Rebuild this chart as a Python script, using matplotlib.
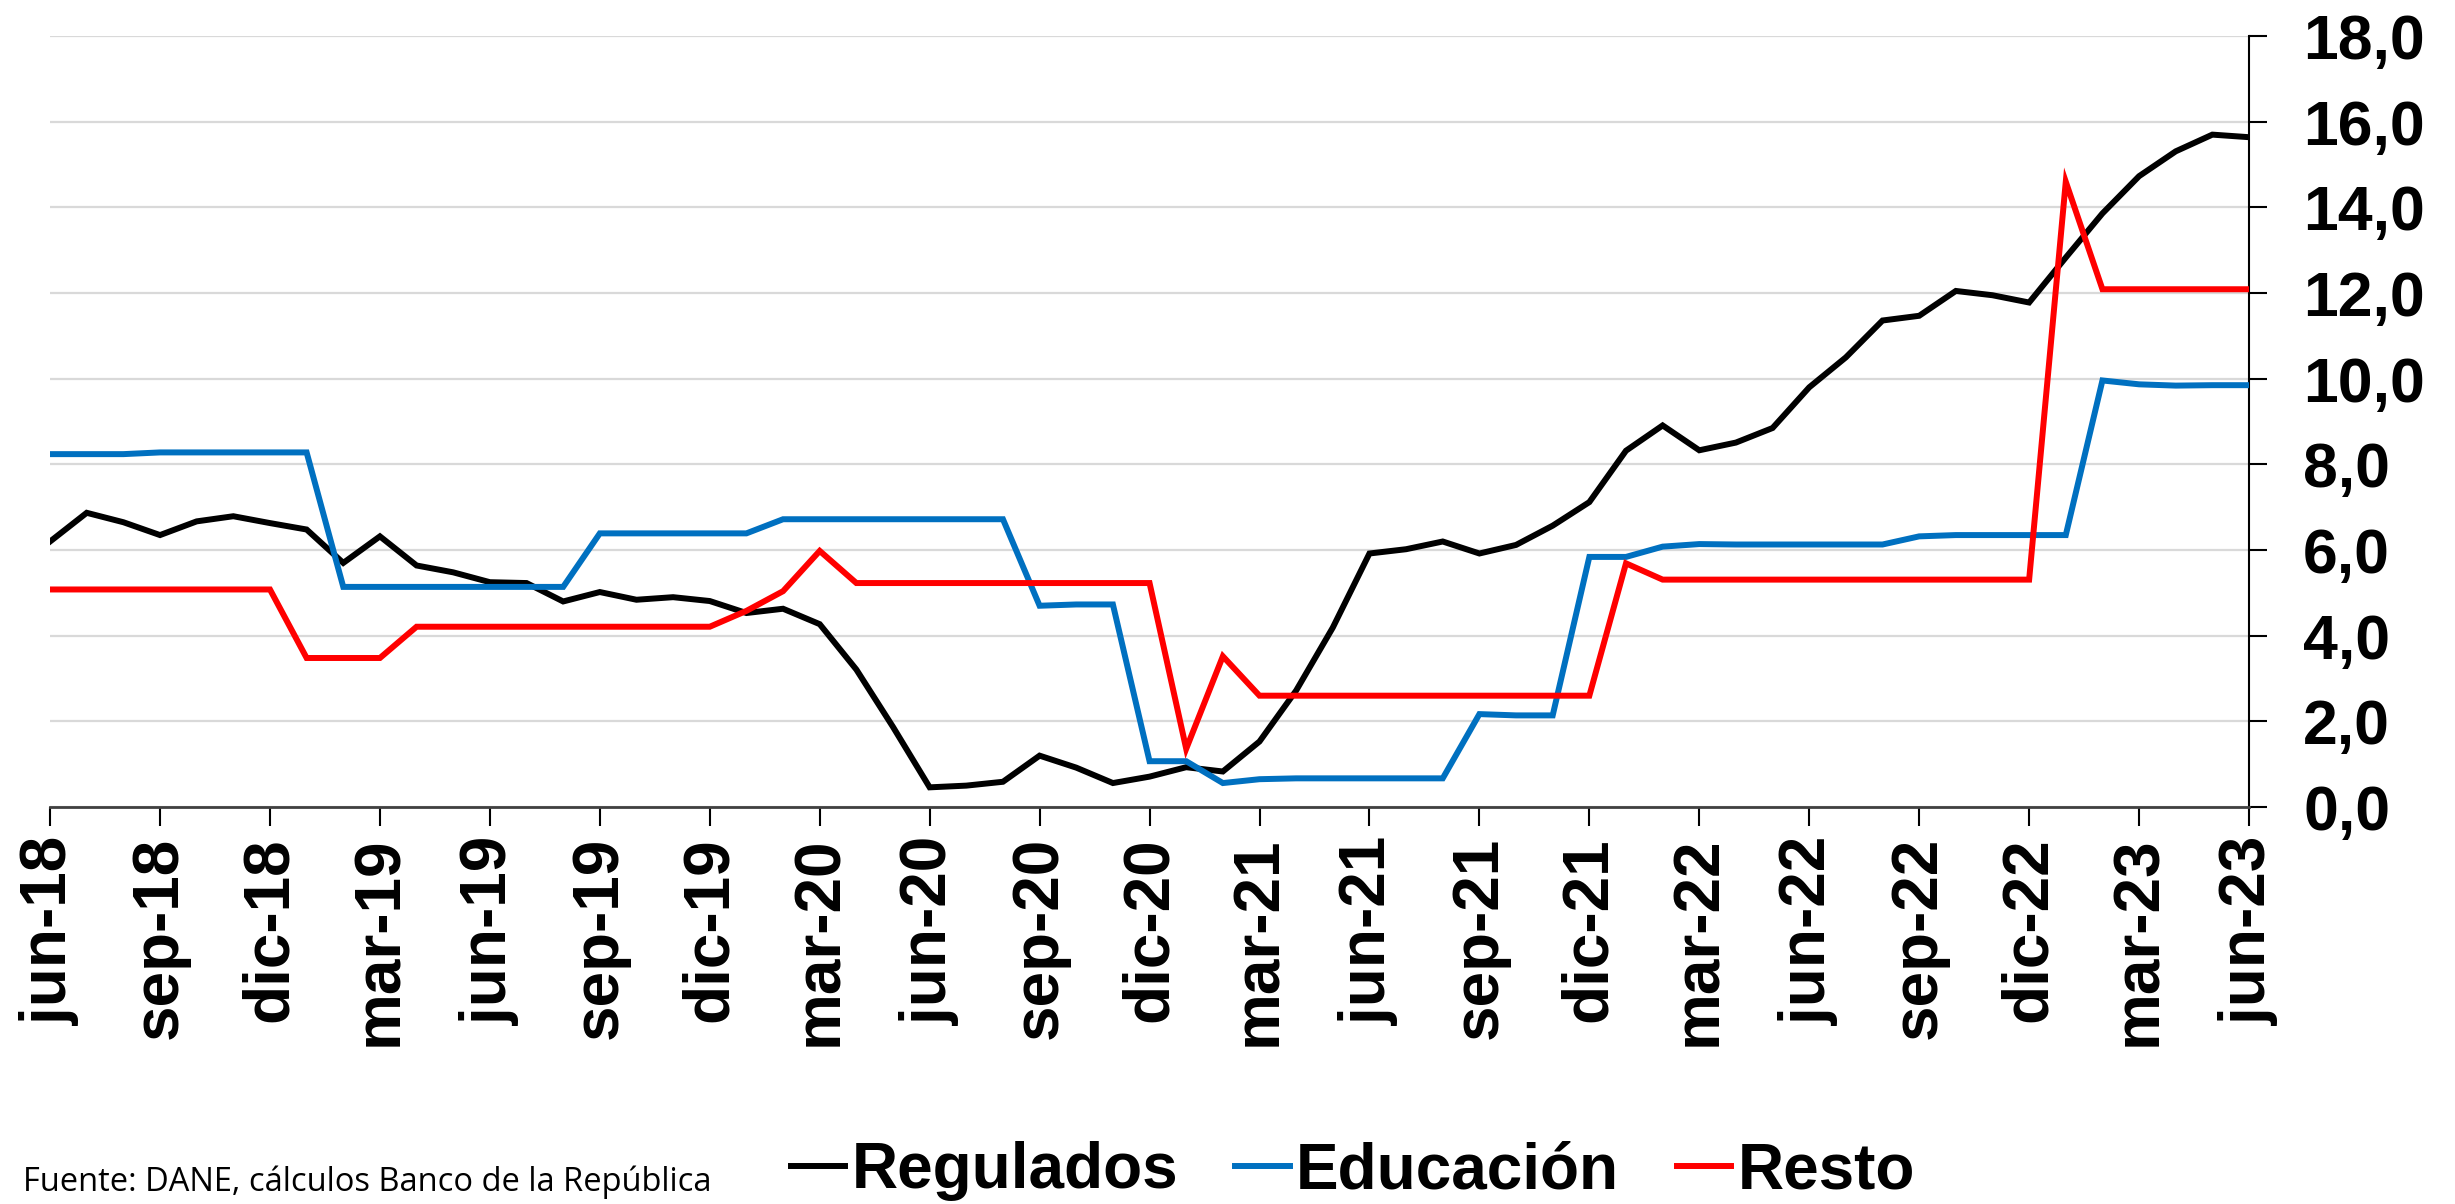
import matplotlib
matplotlib.use("Agg")
import matplotlib.pyplot as plt
from matplotlib.ticker import FuncFormatter, MultipleLocator

# ---------------- data ----------------
months = ["jun", "jul", "ago", "sep", "oct", "nov", "dic", "ene", "feb", "mar", "abr", "may"]
start_year = 18
n_points = 61
categories = []
for k in range(n_points):
    m = months[k % 12]
    yr = start_year + (k + 5) // 12
    categories.append(f"{m}-{yr:02d}")

regulados = [6.20, 6.87, 6.65, 6.35, 6.67, 6.79, 6.63, 6.48, 5.70, 6.32,
             5.64, 5.48, 5.25, 5.23, 4.80, 5.02, 4.84, 4.90, 4.81, 4.53,
             4.63, 4.27, 3.21, 1.87, 0.46, 0.50, 0.59, 1.20, 0.92, 0.56,
             0.71, 0.93, 0.83, 1.53, 2.72, 4.19, 5.92, 6.02, 6.20, 5.92,
             6.12, 6.57, 7.12, 8.32, 8.91, 8.33, 8.51, 8.85, 9.80, 10.50,
             11.36, 11.47, 12.05, 11.95, 11.78, 12.83, 13.86, 14.73, 15.31, 15.70,
             15.64]
educacion = [8.24, 8.24, 8.24, 8.28, 8.28, 8.28, 8.28, 8.28, 5.14, 5.14,
             5.14, 5.14, 5.14, 5.14, 5.14, 6.39, 6.39, 6.39, 6.39, 6.39,
             6.72, 6.72, 6.72, 6.72, 6.72, 6.72, 6.72, 4.70, 4.73, 4.73,
             1.07, 1.07, 0.56, 0.65, 0.67, 0.67, 0.67, 0.67, 0.67, 2.17,
             2.14, 2.14, 5.84, 5.84, 6.08, 6.14, 6.13, 6.13, 6.13, 6.13,
             6.13, 6.32, 6.35, 6.35, 6.35, 6.35, 9.96, 9.87, 9.84, 9.85,
             9.85]
resto = [5.08, 5.08, 5.08, 5.08, 5.08, 5.08, 5.08, 3.48, 3.48, 3.48,
         4.21, 4.21, 4.21, 4.21, 4.21, 4.21, 4.21, 4.21, 4.21, 4.58,
         5.04, 5.98, 5.23, 5.23, 5.23, 5.23, 5.23, 5.23, 5.23, 5.23,
         5.23, 1.36, 3.52, 2.60, 2.60, 2.60, 2.60, 2.60, 2.60, 2.60,
         2.60, 2.60, 2.60, 5.69, 5.31, 5.31, 5.31, 5.31, 5.31, 5.31,
         5.31, 5.31, 5.31, 5.31, 5.31, 14.60, 12.09, 12.09, 12.09, 12.09,
         12.09]

series_names = ["Regulados", "Educación", "Resto"]
series_colors = ["#000000", "#0070C0", "#FF0000"]
tick_step = 3
source_text = "Fuente: DANE, cálculos Banco de la República"

# ---------------- figure ----------------
plt.rcParams['font.family'] = ['Liberation Sans', 'DejaVu Sans']
fig = plt.figure(figsize=(24.55, 12.04), dpi=100)
ax = fig.add_axes([0.0204, 0.3297, 0.9161 - 0.0204, 0.970 - 0.3297])

x = list(range(len(categories)))
for vals, name, col in zip([regulados, educacion, resto], series_names, series_colors):
    ax.plot(x, vals, color=col, lw=4.3, label=name, solid_joinstyle='miter', zorder=3)

ax.set_xlim(0, len(categories) - 1)
ax.set_ylim(0, 18)
ax.yaxis.set_major_locator(MultipleLocator(2))
ax.yaxis.set_major_formatter(FuncFormatter(lambda v, p: f"{v:.1f}".replace(".", ",")))
ax.yaxis.tick_right()
ax.grid(axis='y', color='#d9d9d9', lw=1.6, zorder=0)
ax.set_axisbelow(True)

ticks = x[::tick_step]
ax.set_xticks(ticks)
ax.set_xticklabels([categories[i] for i in ticks], rotation=90, fontsize=46,
                   fontweight='bold')
for lab in ax.get_yticklabels():
    lab.set_fontsize(45)
    lab.set_fontweight('bold')

ax.tick_params(axis='x', direction='out', length=13.5, width=1.5, pad=8, color='black')
ax.tick_params(axis='y', direction='out', length=13, width=1.5, pad=26, color='black')

for s in ['top', 'left']:
    ax.spines[s].set_visible(False)
ax.spines['right'].set_linewidth(1.5)
ax.spines['bottom'].set_linewidth(2.0)
ax.spines['bottom'].set_color('#404040')

leg = fig.legend(loc='center', bbox_to_anchor=(0.551, 0.0274), ncol=3, frameon=False,
                 prop={'family': 'Liberation Sans', 'weight': 'bold', 'size': 46},
                 handlelength=0.85, handletextpad=0.1, columnspacing=0.9,
                 borderpad=0, borderaxespad=0)
for h in leg.get_lines():
    h.set_linewidth(4.3)

fig.text(0.0094, 0.018, source_text, fontsize=23.5,
         family=['Liberation Sans Narrow', 'Open Sans', 'DejaVu Sans'],
         ha='left', va='center')

fig.savefig("out.png", dpi=100)
